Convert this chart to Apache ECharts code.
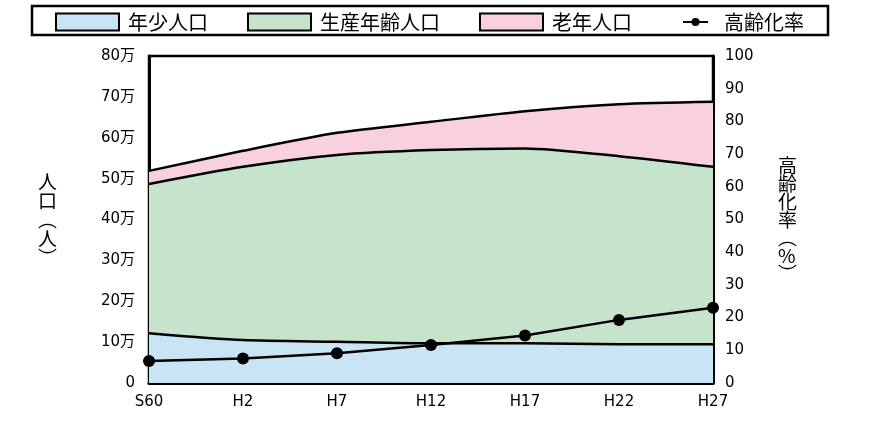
<!DOCTYPE html>
<html>
<head>
<meta charset="utf-8">
<script src="https://cdn.jsdelivr.net/npm/echarts@6/dist/echarts.min.js"></script>
<style>
  html, body { margin: 0; padding: 0; background: #fff; }
  #chart { width: 885px; height: 428px; }
</style>
</head>
<body>
<div id="chart"></div>
<script>
const categories = ['S60', 'H2', 'H7', 'H12', 'H17', 'H22', 'H27'];
// 人口（人）
const youngPop = [122000, 105000, 101000, 97000, 97000, 95000, 95000];
const workingPop = [365000, 424000, 457000, 473000, 477000, 460000, 434000];
const elderlyPop = [32000, 39000, 54000, 69000, 91000, 127000, 159000];
// 高齢化率（%）
const agingRate = [6.7, 7.5, 9.1, 11.6, 14.5, 19.3, 23.0];

const font = '"Noto Sans CJK JP", "Noto Sans", sans-serif';
const numFont = '"DejaVu Sans", "Noto Sans CJK JP", sans-serif';
const colors = { young: '#c9e5f5', working: '#c6e3cc', elderly: '#f8d0de' };

const chart = echarts.init(document.getElementById('chart'));

const areaSeries = (name, data, color) => ({
  name: name,
  type: 'line',
  stack: 'pop',
  data: data,
  smooth: 0.25,
  symbol: 'none',
  lineStyle: { color: '#000', width: 2.5 },
  itemStyle: { color: color },
  areaStyle: { color: color, opacity: 1 },
  z: 2
});

const option = {
  textStyle: { fontFamily: font },
  animation: false,
  graphic: [{
    type: 'rect',
    shape: { x: 32, y: 6, width: 796, height: 29 },
    style: { fill: 'none', stroke: '#000', lineWidth: 2.5 }
  }],
  legend: [{
    left: 55,
    top: 12,
    padding: 0,
    itemWidth: 63,
    itemHeight: 17,
    itemGap: 39,
    icon: 'rect',
    textStyle: { fontSize: 20, color: '#000', fontFamily: font, padding: [0, 0, 0, 4] },
    data: [
      { name: '年少人口', itemStyle: { color: colors.young, borderColor: '#000', borderWidth: 2 } },
      { name: '生産年齢人口', itemStyle: { color: colors.working, borderColor: '#000', borderWidth: 2 } },
      { name: '老年人口', itemStyle: { color: colors.elderly, borderColor: '#000', borderWidth: 2 } }
    ]
  }, {
    left: 682,
    top: 12,
    padding: 0,
    itemWidth: 25,
    itemHeight: 10,
    textStyle: { fontSize: 20, color: '#000', fontFamily: font, padding: [0, 0, 0, 11] },
    data: ['高齢化率']
  }],
  grid: {
    left: 149,
    right: 172,
    top: 56,
    bottom: 45,
    show: true,
    borderColor: '#000',
    borderWidth: 2.5,
    backgroundColor: 'transparent'
  },
  xAxis: {
    type: 'category',
    data: categories,
    boundaryGap: false,
    axisLine: { lineStyle: { color: '#000', width: 3 } },
    axisTick: { show: false },
    axisLabel: { color: '#000', fontSize: 15, margin: 12, fontFamily: numFont },
    splitLine: { show: false }
  },
  yAxis: [{
    type: 'value',
    min: 0,
    max: 800000,
    interval: 100000,
    name: '人\n口\n︵\n人\n︶',
    nameLocation: 'middle',
    nameGap: 92,
    nameRotate: 0,
    nameTextStyle: { color: '#000', fontSize: 19, lineHeight: 19, fontFamily: font },
    axisLine: { show: true, lineStyle: { color: '#000', width: 3 } },
    axisTick: { show: false },
    splitLine: { show: false },
    axisLabel: {
      color: '#000',
      fontSize: 15,
      margin: 14,
      fontFamily: numFont,
      formatter: v => v === 0 ? '0' : (v / 10000) + '万'
    }
  }, {
    type: 'value',
    min: 0,
    max: 100,
    interval: 10,
    name: '高\n齢\n化\n率\n︵\n%\n︶',
    nameLocation: 'middle',
    nameGap: 65,
    nameRotate: 0,
    nameTextStyle: { color: '#000', fontSize: 19, lineHeight: 18, fontFamily: font },
    axisLine: { show: true, lineStyle: { color: '#000', width: 3 } },
    axisTick: { show: false },
    splitLine: { show: false },
    axisLabel: { color: '#000', fontSize: 15, margin: 12, fontFamily: numFont }
  }],
  series: [
    areaSeries('年少人口', youngPop, colors.young),
    areaSeries('生産年齢人口', workingPop, colors.working),
    areaSeries('老年人口', elderlyPop, colors.elderly),
    {
      name: '高齢化率',
      type: 'line',
      yAxisIndex: 1,
      data: agingRate,
      symbol: 'circle',
      symbolSize: 12,
      itemStyle: { color: '#000' },
      lineStyle: { color: '#000', width: 2.5 },
      z: 5
    }
  ]
};

chart.setOption(option);
</script>
</body>
</html>
